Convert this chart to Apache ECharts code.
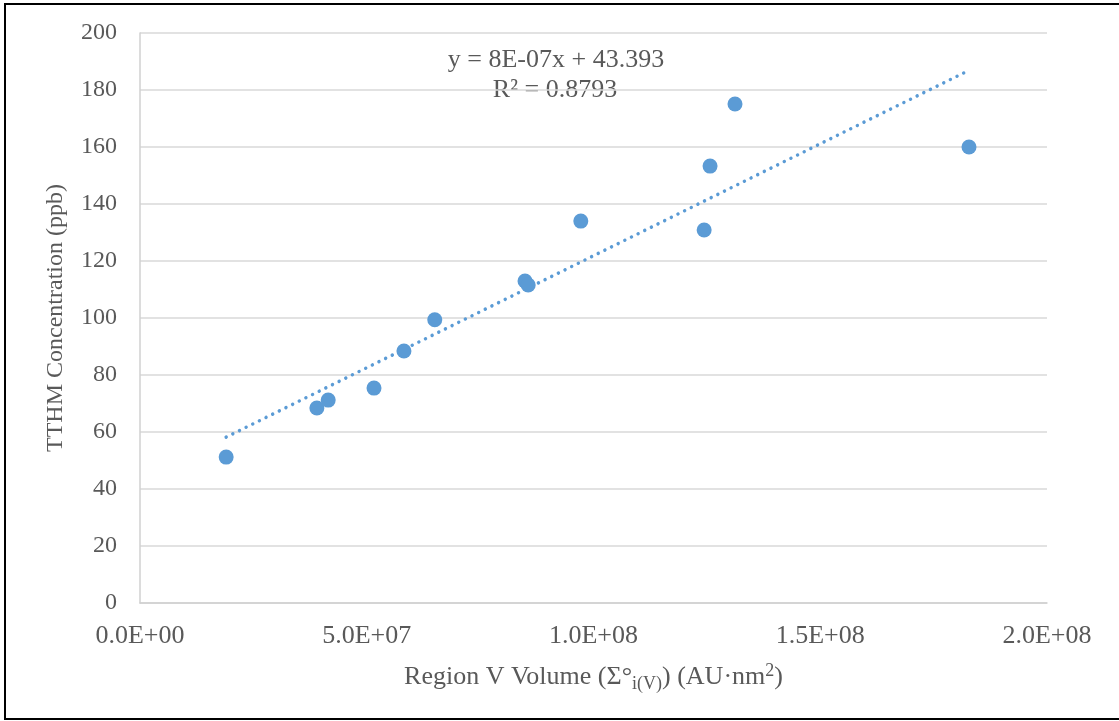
<!DOCTYPE html>
<html>
<head>
<meta charset="utf-8">
<script src="https://cdn.jsdelivr.net/npm/echarts@6/dist/echarts.min.js"></script>
<style>
  html, body { margin: 0; padding: 0; background: #fff; }
  #chart { width: 1119px; height: 721px; }
</style>
</head>
<body>
<div id="chart"></div>
<script>
// Region V volume (AU·nm²) vs TTHM (ppb)
const regionVolume = [1.9e7, 3.9e7, 4.15e7, 5.16e7, 5.82e7, 6.5e7, 8.49e7, 8.56e7, 9.72e7, 1.244e8, 1.257e8, 1.312e8, 1.828e8];
const tthm = [51.2, 68.4, 71.2, 75.4, 88.4, 99.4, 113.0, 111.6, 134.0, 130.9, 153.3, 175.1, 160.0];
// linear trendline ends as drawn
const trendX = [1.9e7, 1.828e8];
const trendY = [58.2, 186.9];
const equationText = ['y = 8E-07x + 43.393', 'R² = 0.8793'];

const fontFamily = '"Liberation Serif", "Times New Roman", serif';
const textColor = '#595959';
const blue = '#5B9BD5';

function sciLabel(v) {
  if (v === 0) return '0.0E+00';
  const exp = Math.floor(Math.log10(Math.abs(v)));
  const mant = v / Math.pow(10, exp);
  const e = String(Math.abs(exp)).padStart(2, '0');
  return mant.toFixed(1) + 'E' + (exp < 0 ? '-' : '+') + e;
}

const chart = echarts.init(document.getElementById('chart'));
chart.setOption({
  backgroundColor: '#fff',
  animation: false,
  textStyle: { fontFamily: fontFamily },
  grid: { left: 140, right: 72, top: 33, bottom: 118 },
  graphic: [
    {
      type: 'rect',
      z: -1,
      shape: { x: 5, y: 4, width: 1120, height: 715 },
      style: { fill: 'none', stroke: '#000', lineWidth: 2 }
    },
    {
      type: 'text',
      x: 556, y: 60,
      style: { text: equationText[0], font: '26px ' + fontFamily, fill: textColor, align: 'center', verticalAlign: 'middle' }
    },
    {
      type: 'text',
      x: 555, y: 90,
      style: { text: equationText[1], font: '26px ' + fontFamily, fill: textColor, align: 'center', verticalAlign: 'middle' }
    }
  ],
  xAxis: {
    type: 'value',
    min: 0,
    max: 2e8,
    interval: 5e7,
    name: 'Region V Volume (Σ°{sub|i(V)}) (AU·nm{sup|2})',
    nameLocation: 'middle',
    nameGap: 58,
    nameTextStyle: {
      fontSize: 26,
      color: textColor,
      fontFamily: fontFamily,
      rich: {
        sub: { fontSize: 18, color: textColor, fontFamily: fontFamily, padding: [14, 0, 0, 0] },
        sup: { fontSize: 18, color: textColor, fontFamily: fontFamily, padding: [0, 0, 12, 0] }
      }
    },
    axisLine: { show: true, lineStyle: { color: '#d0d0d0', width: 1.5 } },
    axisTick: { show: false },
    axisLabel: {
      formatter: sciLabel,
      fontSize: 26,
      color: textColor,
      margin: 20
    },
    splitLine: { show: false }
  },
  yAxis: {
    type: 'value',
    min: 0,
    max: 200,
    interval: 20,
    name: 'TTHM Concentration (ppb)',
    nameLocation: 'middle',
    nameGap: 72,
    nameTextStyle: { fontSize: 24, color: textColor, fontFamily: fontFamily },
    axisLine: { show: true, lineStyle: { color: '#d0d0d0', width: 1.5 } },
    axisTick: { show: false },
    axisLabel: { fontSize: 24, color: textColor, margin: 23 },
    splitLine: { show: true, lineStyle: { color: '#d9d9d9', width: 1.5 } }
  },
  series: [
    {
      name: 'Trend',
      type: 'line',
      data: trendX.map((x, i) => [x, trendY[i]]),
      showSymbol: false,
      silent: true,
      z: 1,
      lineStyle: { color: blue, width: 3.5, type: [0.01, 7.4], cap: 'round' }
    },
    {
      name: 'TTHM',
      type: 'scatter',
      data: regionVolume.map((x, i) => [x, tthm[i]]),
      symbolSize: 15,
      z: 2,
      itemStyle: { color: blue, opacity: 1 }
    }
  ]
});
</script>
</body>
</html>
